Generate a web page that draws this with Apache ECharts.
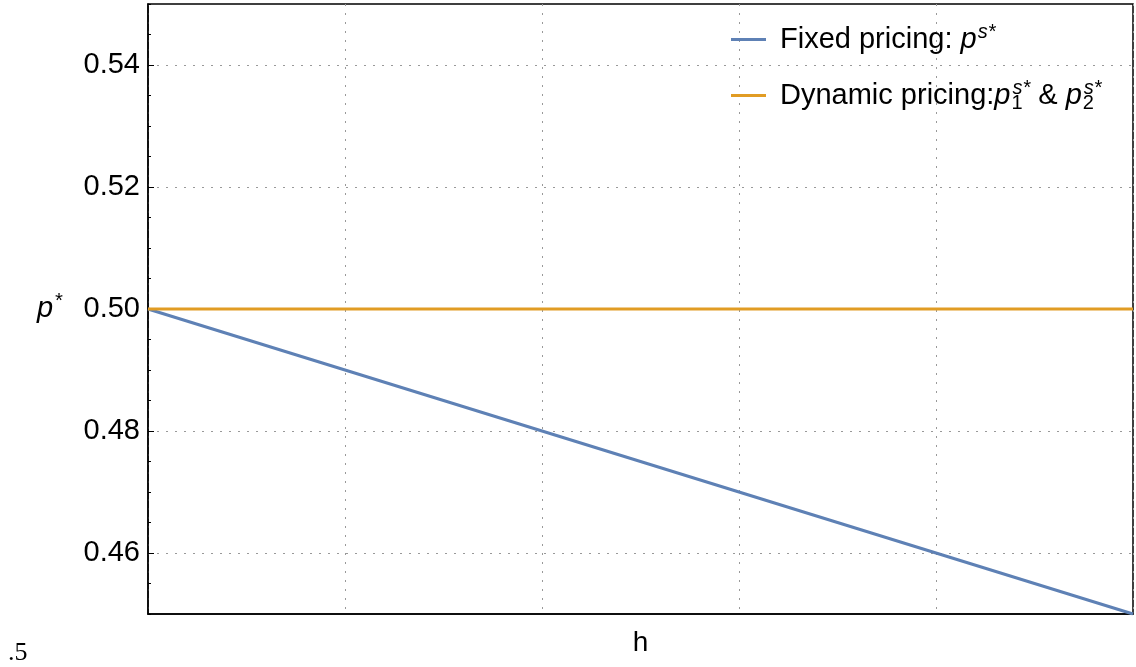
<!DOCTYPE html>
<html>
<head>
<meta charset="utf-8">
<script src="https://cdn.jsdelivr.net/npm/echarts@6/dist/echarts.min.js"></script>
<style>
  html, body { margin: 0; padding: 0; background: #fff; }
  #chart { width: 1136px; height: 667px; }
</style>
</head>
<body>
<div id="chart"></div>
<script>
// data
var hValues = [0, 1];
var fixedPrice = [0.50, 0.45];
var dynamicPrice = [0.50, 0.50];
var yTickLabels = [0.46, 0.48, 0.50, 0.52, 0.54];

var blue = '#5E81B5';
var orange = '#E19C24';
var font = 'Liberation Sans';

var chart = echarts.init(document.getElementById('chart'));

function pairs(xs, ys) {
  return xs.map(function (x, i) { return [x, ys[i]]; });
}

var richText = {
  t0: { fontFamily: font, fontSize: 29, color: '#000', lineHeight: 34, padding: [0, 0, 0, 9] },
  t: { fontFamily: font, fontSize: 29, color: '#000', lineHeight: 34 },
  i: { fontFamily: font, fontSize: 29, fontStyle: 'italic', color: '#000', lineHeight: 34 },
  sup: { fontFamily: font, fontSize: 20, fontStyle: 'italic', color: '#000', padding: [0, 0, 15, 1] },
  sub: { fontFamily: font, fontSize: 20, color: '#000', padding: [15, 0, 0, 1], width: 0.01 }
};

var option = {
  animation: false,
  grid: {
    left: 148, right: 3, top: 4, bottom: 53,
    show: true, borderColor: '#000', borderWidth: 1.5
  },
  legend: {
    orient: 'vertical',
    left: 726,
    top: 17,
    itemWidth: 35,
    itemHeight: 3,
    itemGap: 24,
    icon: 'rect',
    data: ['Fixed', 'Dynamic'],
    formatter: function (name) {
      if (name === 'Fixed') return '{t0|Fixed pricing: }{i|p}{sup|s*}';
      return '{t0|Dynamic pricing:}{i|p}{sub|1}{sup|s*}{t| & }{i|p}{sub|2}{sup|s*}';
    },
    textStyle: { rich: richText }
  },
  xAxis: {
    type: 'value',
    min: 0,
    max: 1,
    interval: 0.2,
    name: 'h',
    nameLocation: 'middle',
    nameGap: 15,
    nameTextStyle: { fontFamily: font, fontSize: 28, color: '#000' },
    axisLine: { lineStyle: { color: '#000', width: 1.5 } },
    axisTick: { show: false },
    axisLabel: { show: false },
    splitLine: { show: true, lineStyle: { color: '#999', type: [2, 7], width: 1 } }
  },
  yAxis: [{
    type: 'value',
    min: 0.45,
    max: 0.55,
    splitNumber: 5,
    name: '{i|p}{sup|*}',
    nameLocation: 'middle',
    nameRotate: 0,
    nameGap: 86,
    nameTextStyle: { rich: richText },
    axisLine: { show: true, lineStyle: { color: '#000', width: 1.5 } },
    axisTick: { show: true, inside: true, length: 6, customValues: yTickLabels, lineStyle: { color: '#000', width: 1 } },
    axisLabel: {
      customValues: yTickLabels,
      margin: 8,
      fontFamily: font,
      fontSize: 29,
      color: '#000',
      formatter: function (v) { return v.toFixed(2); }
    },
    splitLine: { show: true, lineStyle: { color: '#999', type: [2, 7], width: 1 } }
  }, {
    type: 'value',
    min: 0.45,
    max: 0.55,
    interval: 0.005,
    position: 'left',
    axisLine: { show: false },
    axisTick: { show: true, inside: true, length: 3, lineStyle: { color: '#000', width: 1 } },
    axisLabel: { show: false },
    splitLine: { show: false }
  }],
  graphic: [{
    type: 'text',
    left: 8,
    top: 640,
    style: { text: '.5', font: '26px "Liberation Serif"', fill: '#000' }
  }],
  series: [{
    name: 'Dynamic',
    type: 'line',
    data: pairs(hValues, dynamicPrice),
    showSymbol: false,
    lineStyle: { color: orange, width: 3 },
    itemStyle: { color: orange },
    z: 3
  }, {
    name: 'Fixed',
    type: 'line',
    data: pairs(hValues, fixedPrice),
    showSymbol: false,
    lineStyle: { color: blue, width: 3 },
    itemStyle: { color: blue },
    z: 2
  }]
};

chart.setOption(option);
</script>
</body>
</html>
